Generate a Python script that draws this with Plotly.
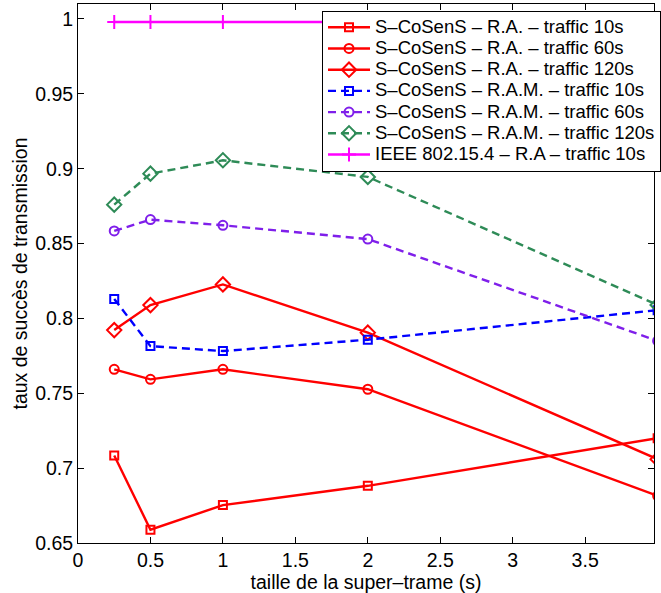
import plotly.graph_objects as go

x_vals = [0.25, 0.5, 1, 2, 4]

ra_10 = [0.7084, 0.6589, 0.6753, 0.6882, 0.7200]
ra_60 = [0.7660, 0.7593, 0.7660, 0.7527, 0.6815]
ra_120 = [0.7922, 0.8089, 0.8227, 0.7905, 0.7060]
ram_10 = [0.8130, 0.7815, 0.7782, 0.7858, 0.8055]
ram_60 = [0.8584, 0.8660, 0.8622, 0.8530, 0.7850]
ram_120 = [0.8760, 0.8967, 0.9056, 0.8945, 0.8090]
ieee_10 = [0.998, 0.998, 0.998, 0.998, 0.998]

names = [
    "S\u2013CoSenS \u2013 R.A. \u2013 traffic 10s",
    "S\u2013CoSenS \u2013 R.A. \u2013 traffic 60s",
    "S\u2013CoSenS \u2013 R.A. \u2013 traffic 120s",
    "S\u2013CoSenS \u2013 R.A.M. \u2013 traffic 10s",
    "S\u2013CoSenS \u2013 R.A.M. \u2013 traffic 60s",
    "S\u2013CoSenS \u2013 R.A.M. \u2013 traffic 120s",
    "IEEE 802.15.4 \u2013 R.A \u2013 traffic 10s",
]
x_ticks = [0, 0.5, 1, 1.5, 2, 2.5, 3, 3.5, 4]
x_ticktext = ["0", "0.5", "1", "1.5", "2", "2.5", "3", "3.5", "4"]
y_ticks = [0.65, 0.7, 0.75, 0.8, 0.85, 0.9, 0.95, 1]
y_ticktext = ["0.65", "0.7", "0.75", "0.8", "0.85", "0.9", "0.95", "1"]

series = [ra_10, ra_60, ra_120, ram_10, ram_60, ram_120, ieee_10]
colors = ["#FF0000", "#FF0000", "#FF0000", "#0000FF", "#7F1FEA", "#2E8B57", "#FF00FF"]
symbols = ["square-open", "circle-open", "diamond-open", "square-open",
           "circle-open", "diamond-open", "cross-thin-open"]
sizes = [8, 9, 11, 8, 9, 11, 10]
dashes = ["solid", "solid", "solid", "8px,5px", "8px,5px", "8px,5px", "solid"]

font_family = "Liberation Sans, Arial, Helvetica, sans-serif"
legend_text_px = 18.5

fig = go.Figure()
for name, ys, c, sym, sz, d in zip(names, series, colors, symbols, sizes, dashes):
    fig.add_trace(go.Scatter(
        x=x_vals, y=ys,
        name='<span style="font-size:%spx">%s</span>' % (legend_text_px, name),
        mode="lines+markers",
        line=dict(color=c, width=2.4, dash=d),
        marker=dict(symbol=sym, size=sz, color=c, line=dict(color=c, width=2)),
    ))

fig.update_layout(
    width=661, height=593,
    margin=dict(l=78, r=0, t=4, b=50),
    paper_bgcolor="white", plot_bgcolor="white",
    font=dict(family=font_family, size=19.5, color="black"),
    showlegend=True,
    legend=dict(
        x=0.4237, y=0.9876, xanchor="left", yanchor="top",
        bgcolor="white", bordercolor="black", borderwidth=1,
        font=dict(size=14, family=font_family, color="black"),
        tracegroupgap=0, itemwidth=42,
    ),
    xaxis=dict(
        range=[0, 3.975], tickvals=x_ticks, ticktext=x_ticktext,
        ticks="inside", ticklen=6, tickcolor="black", tickwidth=1,
        showline=True, linecolor="black", linewidth=1, mirror="allticks",
        showgrid=False, zeroline=False,
        title=dict(text="taille de la super\u2013trame (s)", standoff=4,
                   font=dict(size=19.5)),
        tickfont=dict(size=19.5),
    ),
    yaxis=dict(
        range=[0.65, 1.01], tickvals=y_ticks, ticktext=y_ticktext,
        ticks="inside", ticklen=6, tickcolor="black", tickwidth=1,
        showline=True, linecolor="black", linewidth=1, mirror="allticks",
        showgrid=False, zeroline=False,
        title=dict(text="taux de succ\u00e8s de transmission", standoff=2,
                   font=dict(size=19.5)),
        tickfont=dict(size=19.5),
    ),
)

fig.write_html("out.html", config={"displayModeBar": False},
               post_script="document.body.style.margin='0px';")
